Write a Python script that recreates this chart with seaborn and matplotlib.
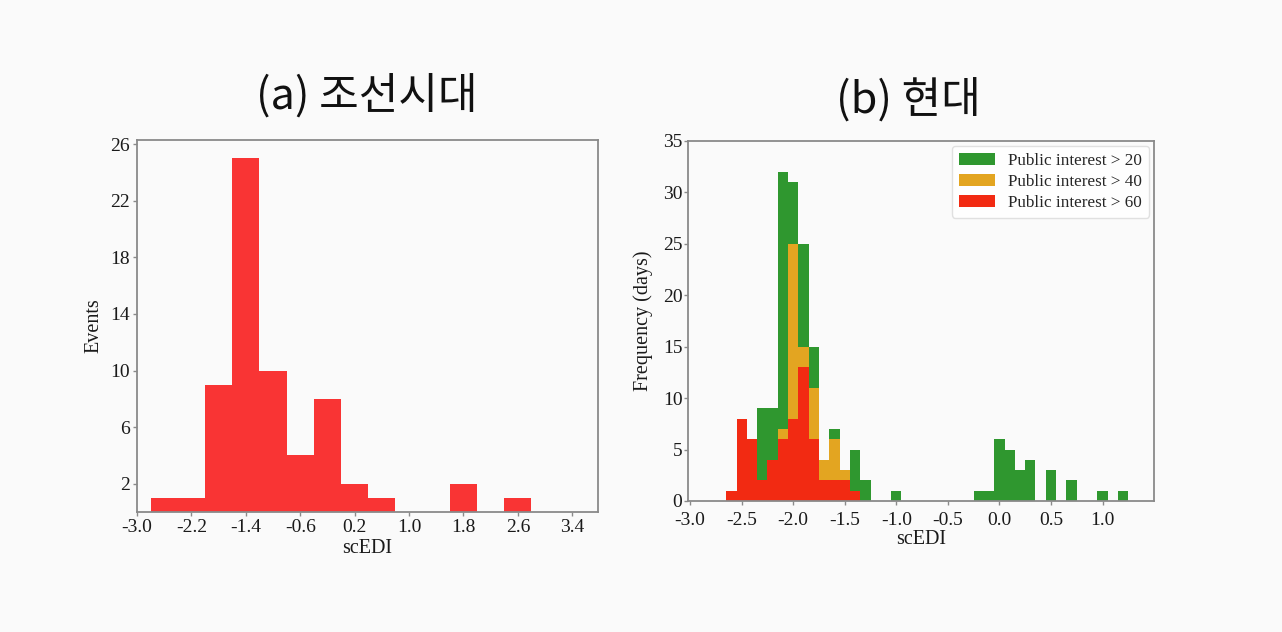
import matplotlib
matplotlib.use("Agg")
import matplotlib.pyplot as plt
import seaborn as sns

# (a) Joseon era: scEDI histogram, bin width 0.4
joseon_centers = [-2.6, -2.2, -1.8, -1.4, -1.0, -0.6, -0.2, 0.2, 0.6, 1.0, 1.4, 1.8, 2.2, 2.6]
joseon_events = [1, 1, 9, 25, 10, 4, 8, 2, 1, 0, 0, 2, 0, 1]

# (b) modern era: scEDI histogram, bin width 0.1
modern_centers = [-2.6, -2.5, -2.4, -2.3, -2.2, -2.1, -2.0, -1.9, -1.8, -1.7,
                  -1.6, -1.5, -1.4, -1.3, -1.2, -1.1, -1.0, -0.9, -0.8, -0.7,
                  -0.6, -0.5, -0.4, -0.3, -0.2, -0.1, 0.0, 0.1, 0.2, 0.3,
                  0.4, 0.5, 0.6, 0.7, 0.8, 0.9, 1.0, 1.1, 1.2]
days_pi20 = [1, 8, 6, 9, 9, 32, 31, 25, 15, 4,
             7, 3, 5, 2, 0, 0, 1, 0, 0, 0,
             0, 0, 0, 0, 1, 1, 6, 5, 3, 4,
             0, 3, 0, 2, 0, 0, 1, 0, 1]
days_pi40 = [1, 8, 6, 2, 4, 7, 25, 15, 11, 4, 6, 3, 1]
days_pi60 = [1, 8, 6, 2, 4, 6, 8, 13, 6, 2, 2, 2, 1]

left_ticks = [-3.0, -2.2, -1.4, -0.6, 0.2, 1.0, 1.8, 2.6, 3.4]
left_yticks = [2, 6, 10, 14, 18, 22, 26]
right_ticks = [-3.0, -2.5, -2.0, -1.5, -1.0, -0.5, 0.0, 0.5, 1.0]
right_yticks = [0, 5, 10, 15, 20, 25, 30, 35]

sns.set_theme(style="white")
plt.rcParams['font.family'] = ['Liberation Serif', 'DejaVu Serif']
plt.rcParams['axes.edgecolor'] = '#8a8a8a'
plt.rcParams['axes.linewidth'] = 1.3

bg = '#fafafa'
fig = plt.figure(figsize=(12.82, 6.32), dpi=100, facecolor=bg)
ax1 = fig.add_axes([0.1069, 0.1899, 0.3596, 0.5886], facecolor=bg)
ax2 = fig.add_axes([0.5367, 0.2073, 0.3635, 0.5701], facecolor=bg)

# ---- (a)
sns.histplot(x=joseon_centers, weights=joseon_events, binwidth=0.4, binrange=(-2.8, 2.8),
             color='#f93434', alpha=1, linewidth=0, ax=ax1)
ax1.set_xlim(-3.0, 3.78)
ax1.set_ylim(0, 26.3)
ax1.set_xticks(left_ticks)
ax1.set_xticklabels([f'{t:.1f}' for t in left_ticks])
ax1.set_yticks(left_yticks)
ax1.set_xlabel('scEDI', fontsize=14.5, color='#1a1a1a', labelpad=2)
ax1.set_ylabel('Events', fontsize=14.5, color='#1a1a1a', labelpad=5)

# ---- (b)
groups = [(days_pi20, '#2f972f', 'Public interest > 20'),
          (days_pi40, '#e3a521', 'Public interest > 40'),
          (days_pi60, '#f22a12', 'Public interest > 60')]
for vals, col, lab in groups:
    sns.histplot(x=modern_centers[:len(vals)], weights=vals, binwidth=0.1,
                 binrange=(-2.65, 1.25), color=col, alpha=1, linewidth=0,
                 label=lab, ax=ax2)
ax2.set_xlim(-3.02, 1.5)
ax2.set_ylim(0, 35)
ax2.set_xticks(right_ticks)
ax2.set_xticklabels([f'{t:.1f}' for t in right_ticks])
ax2.set_yticks(right_yticks)
ax2.set_xlabel('scEDI', fontsize=14.5, color='#1a1a1a', labelpad=1)
ax2.set_ylabel('Frequency (days)', fontsize=14.5, color='#1a1a1a', labelpad=7)
ax2.legend(loc='upper right', fontsize=12.3, frameon=True, edgecolor='#dddddd',
           facecolor='white', framealpha=0.9, handlelength=2.1, borderpad=0.4,
           labelspacing=0.3, borderaxespad=0.3)

for ax in (ax1, ax2):
    ax.tick_params(axis='both', which='major', labelsize=14, colors='#1a1a1a',
                   length=3, width=1, direction='out', pad=2,
                   bottom=True, left=True)
    ax.tick_params(axis='both', color='#8a8a8a')
ax2.tick_params(axis='x', pad=5)
ax2.tick_params(axis='y', pad=1)

# titles in Korean
kfont = ['Noto Sans CJK KR', 'DejaVu Sans']
fig.text(367 / 1282, 1 - 96 / 632, '(a) 조선시대', fontsize=31, family=kfont,
         ha='center', va='center', color='#111111')
fig.text(908 / 1282, 1 - 101 / 632, '(b) 현대', fontsize=31, family=kfont,
         ha='center', va='center', color='#111111')

fig.savefig('out.png', dpi=100, facecolor=bg)
